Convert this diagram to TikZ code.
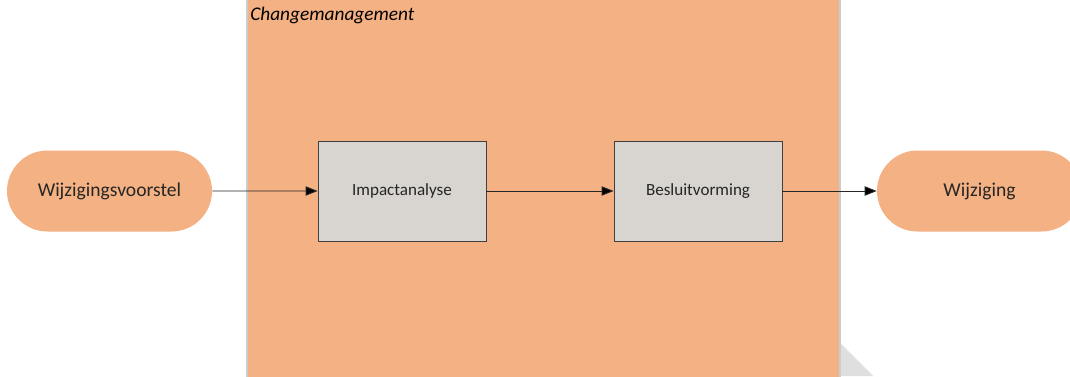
\documentclass[tikz,border=0pt]{standalone}
\usepackage{fontspec}
\setmainfont{Carlito}
\usetikzlibrary{shapes.misc,arrows.meta}
\definecolor{oranje}{HTML}{F4B183}
\definecolor{grijs}{HTML}{D8D4CF}
\definecolor{rand}{HTML}{404040}
\definecolor{lijn}{HTML}{262626}
\tikzset{
  pil/.style={rounded rectangle,fill=oranje,draw=none,minimum width=153.75pt,
    minimum height=60.75pt,inner sep=0pt,text=lijn,font=\fontsize{14.7}{17}\selectfont},
  stap/.style={rectangle,fill=grijs,draw=rand,line width=0.6pt,minimum width=126pt,
    minimum height=75pt,inner sep=0pt,text=lijn,font=\fontsize{12.8}{15}\selectfont},
  pijl/.style={draw=lijn,line width=0.7pt,-{Triangle[length=9pt,width=7pt,fill=black]}}
}
\begin{document}
\begin{tikzpicture}[x=0.75pt,y=0.75pt]
                \clip (0,0) rectangle (1070,376);
                \fill[white] (0,0) rectangle (1070,376);
                % proces
                \fill[gray!25] (840,33) -- (873,0) -- (840,0) -- cycle;
                \fill[oranje] (247,-5) rectangle (840,381);
                \draw[gray!40,line width=0.8pt] (247,-5) -- (247,381);
                \draw[gray!40,line width=0.8pt] (840,-5) -- (840,381);
                \node[anchor=base west,font=\itshape\fontsize{14.5}{17}\selectfont,inner sep=0pt]
                  (titel) at (250,355) {Changemanagement};
                % stappen
                \node[pil] (voorstel) at (109.5,185) {Wijzigingsvoorstel};
                \node[stap] (impact) at (402,185) {Impactanalyse};
                \node[stap] (besluit) at (698,185) {Besluitvorming};
                \node[pil] (wijziging) at (979.5,185) {Wijziging};
                \draw[pijl] (voorstel) -- (impact);
                \draw[pijl] (impact) -- (besluit);
                \draw[pijl] (besluit) -- (wijziging);
            \end{tikzpicture}
\end{document}
